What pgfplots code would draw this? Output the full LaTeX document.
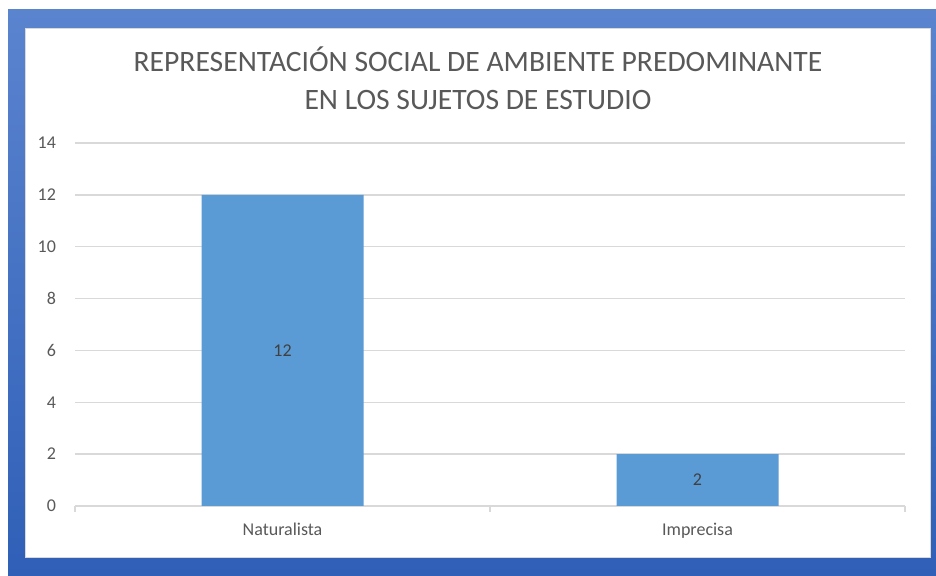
\documentclass[border=0pt]{standalone}
\usepackage{pgfplots}
\pgfplotsset{compat=1.18}
\usepackage{fontspec}
\setmainfont{Carlito}
\definecolor{barblue}{HTML}{5B9BD5}
\definecolor{txtgray}{HTML}{595959}
\definecolor{lblgray}{HTML}{404040}
\definecolor{gridgray}{HTML}{D9D9D9}
\definecolor{frametop}{HTML}{5B84CF}
\definecolor{framebot}{HTML}{2F5FB7}
\begin{document}
\begin{tikzpicture}
\useasboundingbox (0pt,0pt) rectangle (468pt,288pt);
\fill[white] (0pt,0pt) rectangle (468pt,288pt);
% frame
\shade[top color=frametop,bottom color=framebot] (4pt,0pt) rectangle (468pt,283pt);
\fill[white] (12.5pt,9.5pt) rectangle (465pt,274pt);
\draw[gridgray,line width=0.4pt] (12.5pt,9.5pt) rectangle (465pt,274pt);
% title
\node[txtgray,align=center,font=\fontsize{14.8}{19}\selectfont] at (239pt,249pt)
  {REPRESENTACIÓN SOCIAL DE AMBIENTE PREDOMINANTE\\EN LOS SUJETOS DE ESTUDIO};
\begin{axis}[
    at={(37.5pt,35pt)}, anchor=south west,
    width=415pt, height=181.5pt, scale only axis,
    xmin=-0.5, xmax=1.5,
    ymin=0, ymax=14,
    ytick={0,2,...,14},
    xtick={0,1},
    xticklabels={Naturalista,Imprecisa},
    minor xtick={-0.5,0.5,1.5},
    tick align=outside,
    major tick length=0pt,
    minor tick length=3pt,
    minor x tick style={gridgray,line width=0.75pt},
    axis x line*=bottom,
    axis y line*=left,
    x axis line style={gridgray,line width=0.75pt,-},
    y axis line style={draw=none},
    ymajorgrids,
    major grid style={gridgray,line width=0.75pt},
    /pgf/number format/assume math mode=true,
    yticklabel style={txtgray,font=\fontsize{9}{10}\selectfont,xshift=-6pt},
    xticklabel style={txtgray,font=\fontsize{9}{10}\selectfont,yshift=-5pt},
    ybar,
    bar width=81pt,
    nodes near coords,
    visualization depends on={rawy \as \ry},
    every node near coord/.append style={anchor=center,lblgray,
        font=\fontsize{9}{10}\selectfont,
        shift={(axis direction cs:0,-\ry/2)}},
]
\addplot[fill=barblue,draw=none] coordinates {(0,12) (1,2)};
\end{axis}
\end{tikzpicture}
\end{document}
